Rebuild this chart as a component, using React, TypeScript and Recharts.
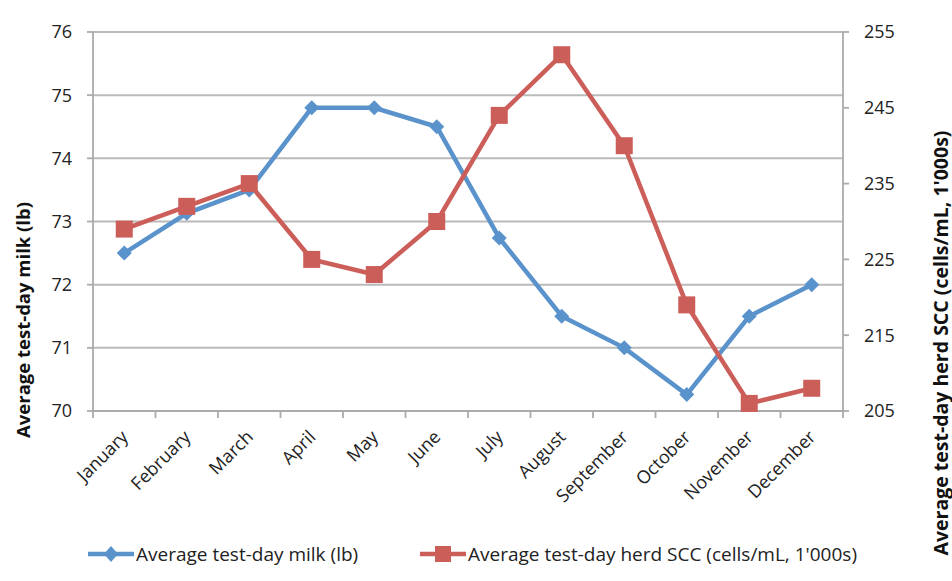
import React from 'react';
import { ComposedChart, Line, XAxis, YAxis, CartesianGrid, Legend } from 'recharts';

const months = ['January', 'February', 'March', 'April', 'May', 'June', 'July', 'August', 'September', 'October', 'November', 'December'];
const milk = [72.5, 73.13, 73.5, 74.8, 74.8, 74.5, 72.74, 71.5, 71.0, 70.26, 71.5, 72.0];
const scc = [229, 232, 235, 225, 223, 230, 244, 252, 240, 219, 206, 208];
const milkTicks = [70, 71, 72, 73, 74, 75, 76];
const sccTicks = [205, 215, 225, 235, 245, 255];
const milkName = 'Average test-day milk (lb)';
const sccName = "Average test-day herd SCC (cells/mL, 1'000s)";

const data = months.map((m, i) => ({ month: m, milk: milk[i], scc: scc[i] }));

const BLUE = '#5a92cb';
const RED = '#cc5e5a';
const AXIS = '#ababab';
const GRID = '#bababa';
const FONT = '"Open Sans", "Noto Sans", sans-serif';

const Diamond = (props: any) => {
  const { cx, cy } = props;
  if (cx == null || cy == null) return null;
  const r = 7.5;
  return <path d={`M${cx},${cy - r} L${cx + r},${cy} L${cx},${cy + r} L${cx - r},${cy} Z`} fill={BLUE} />;
};

const Square = (props: any) => {
  const { cx, cy } = props;
  if (cx == null || cy == null) return null;
  const s = 8.5;
  return <rect x={cx - s} y={cy - s} width={s * 2} height={s * 2} fill={RED} />;
};

const XTick = (props: any) => {
  const { x, y, payload, index, visibleTicksCount, width } = props;
  const band = width / visibleTicksCount;
  const ax = x + 5;
  const ay = y + 27;
  return (
    <g>
      <line x1={x - band / 2} x2={x - band / 2} y1={y} y2={y + 7} stroke={AXIS} strokeWidth={1.8} />
      {index === visibleTicksCount - 1 && (
        <line x1={x + band / 2} x2={x + band / 2} y1={y} y2={y + 7} stroke={AXIS} strokeWidth={1.8} />
      )}
      <text x={ax} y={ay} textAnchor="end" transform={`rotate(-45, ${ax}, ${ay})`} fontSize={18} fill="#222" fontFamily={FONT}>
        {payload.value}
      </text>
    </g>
  );
};

const LegendContent = () => {
  const item = (left: number, color: string, marker: React.ReactNode, label: string) => (
    <div style={{ position: 'absolute', left, top: 0, display: 'flex', alignItems: 'center', whiteSpace: 'nowrap' }}>
      <svg width={48} height={22}>
        <line x1={1} x2={47} y1={11} y2={11} stroke={color} strokeWidth={4.5} />
        {marker}
      </svg>
      <span style={{ fontFamily: FONT, fontSize: 19, color: '#222', marginLeft: 1 }}>{label}</span>
    </div>
  );
  return (
    <div style={{ position: 'relative', width: 952, height: 24 }}>
      {item(87, BLUE, <path d="M24,3 L31,11 L24,19 L17,11 Z" fill={BLUE} />, milkName)}
      {item(419, RED, <rect x={16} y={3} width={16} height={16} fill={RED} />, sccName)}
    </div>
  );
};

export default function App() {
  return (
    <div style={{ position: 'absolute', left: 0, top: 0, width: 952, height: 581, background: '#fff' }}>
      <ComposedChart width={952} height={581} data={data} margin={{ top: 32, right: 0, bottom: 0, left: 0 }}>
        <CartesianGrid vertical={false} stroke={GRID} strokeWidth={2} yAxisId="left" />
        <XAxis
          dataKey="month"
          scale="band"
          height={146}
          tickLine={false}
          tickSize={0}
          tickMargin={0}
          axisLine={{ stroke: AXIS, strokeWidth: 1.8 }}
          tick={<XTick />}
          interval={0}
        />
        <YAxis
          yAxisId="left"
          width={93}
          domain={[70, 76]}
          ticks={milkTicks}
          interval={0}
          axisLine={{ stroke: AXIS, strokeWidth: 1.8 }}
          tickLine={{ stroke: AXIS, strokeWidth: 1.8 }}
          tickSize={6}
          tickMargin={15}
          tick={{ fontSize: 18, fill: '#222', fontFamily: FONT }}
          label={{
            content: (p: any) => {
              const vb = p.viewBox;
              const cx = vb.x + 22;
              const cy = 320;
              return (
                <text x={cx} y={cy} textAnchor="middle" dominantBaseline="central" transform={`rotate(-90, ${cx}, ${cy})`} fontSize={18.5} fontWeight="bold" fill="#111" fontFamily={FONT}>
                  {milkName}
                </text>
              );
            },
          }}
        />
        <YAxis
          yAxisId="right"
          orientation="right"
          width={109}
          domain={[205, 255]}
          ticks={sccTicks}
          interval={0}
          axisLine={{ stroke: AXIS, strokeWidth: 1.8 }}
          tickLine={{ stroke: AXIS, strokeWidth: 1.8 }}
          tickSize={6}
          tickMargin={15}
          tick={{ fontSize: 18, fill: '#222', fontFamily: FONT, textAnchor: 'start' }}
          label={{
            content: (p: any) => {
              const vb = p.viewBox;
              const cx = vb.x + 97;
              const cy = 343;
              return (
                <text x={cx} y={cy} textAnchor="middle" dominantBaseline="central" transform={`rotate(-90, ${cx}, ${cy})`} fontSize={19.5} fontWeight="bold" fill="#111" fontFamily={FONT}>
                  {sccName}
                </text>
              );
            },
          }}
        />
        <Legend
          verticalAlign="bottom"
          content={<LegendContent />}
          wrapperStyle={{ position: 'absolute', left: 0, top: 541, width: 952, height: 24 }}
        />
        <Line
          yAxisId="left"
          dataKey="milk"
          name={milkName}
          stroke={BLUE}
          strokeWidth={4.5}
          dot={<Diamond />}
          activeDot={false}
          isAnimationActive={false}
        />
        <Line
          yAxisId="right"
          dataKey="scc"
          name={sccName}
          stroke={RED}
          strokeWidth={4.5}
          dot={<Square />}
          activeDot={false}
          isAnimationActive={false}
        />
      </ComposedChart>
    </div>
  );
}
